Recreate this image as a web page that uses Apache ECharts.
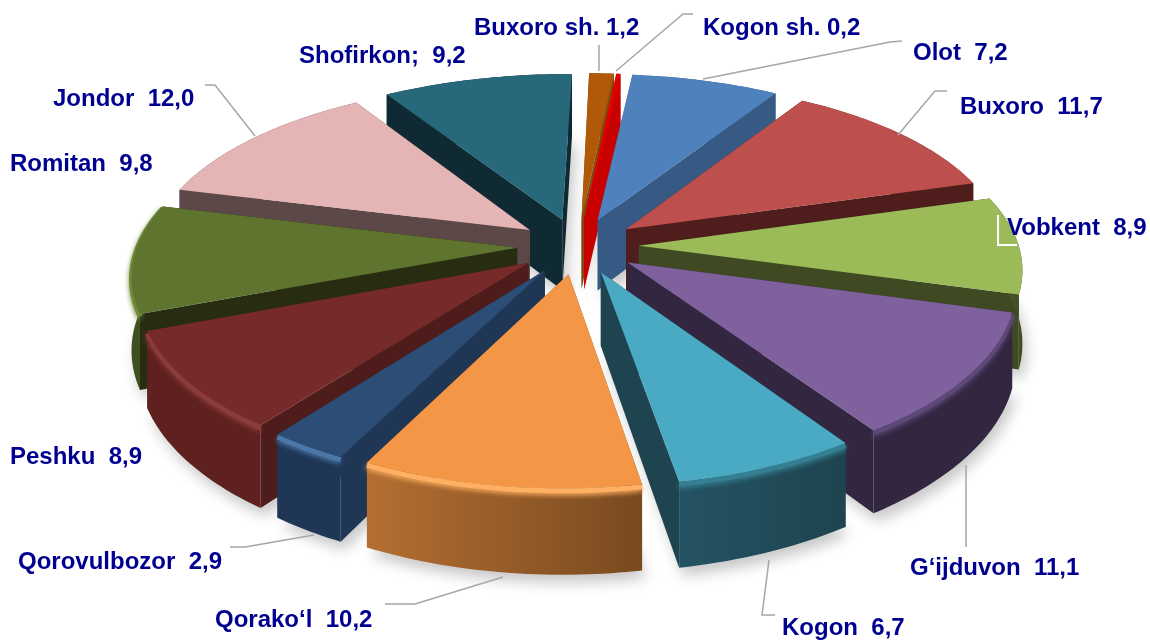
<!DOCTYPE html>
<html>
<head>
<meta charset="utf-8">
<style>
  html, body { margin: 0; padding: 0; background: #fff; }
  #main { width: 1150px; height: 641px; }
</style>
<script src="https://cdn.jsdelivr.net/npm/echarts@6/dist/echarts.min.js"></script>
</head>
<body>
<div id="main"></div>
<script>
// Datos
var names = ['Buxoro sh.', 'Kogon sh.', 'Olot', 'Buxoro', 'Vobkent', 'G‘ijduvon', 'Kogon', 'Qorako‘l', 'Qorovulbozor', 'Peshku', 'Romitan', 'Jondor', 'Shofirkon;'];
var values = [1.2, 0.2, 7.2, 11.7, 8.9, 11.1, 6.7, 10.2, 2.9, 8.9, 9.8, 12.0, 9.2];
var gaps = [' ', ' ', '  ', '  ', '  ', '  ', '  ', '  ', '  ', '  ', '  ', '  ', '  '];

// Colores de cada sector
var topColors = ['#b05a08', '#e60000', '#4f81bd', '#bd504d', '#9bbb59', '#7f619d', '#4aa9c3', '#f39645', '#2c4d75', '#772a2a', '#5f752f', '#e4b5b4', '#27687a'];
var wallColors = ['#7c4a12', '#c80000', '#365a84', '#4f1d1c', '#404a22', '#322640', '#1e444f', '#7a4b20', '#1f3655', '#4d1c1b', '#282d11', '#5c4847', '#102a33'];
var sideLeft = ['#7c4a12', '#c80000', '#365a84', '#4f1d1c', '#5b7030', '#322640', '#245363', '#b56e31', '#1f3655', '#5e2120', '#3f5020', '#5c4847', '#102a33'];
var sideRight = ['#7c4a12', '#c80000', '#365a84', '#4f1d1c', '#404a22', '#322640', '#1e444f', '#784a20', '#1f3655', '#5e2120', '#3f5020', '#5c4847', '#102a33'];
var bevelColors = ['#b05a08', '#e60000', '#4f81bd', '#bd504d', '#7f9a48', '#5e4878', '#357f92', '#ffb062', '#4c78a8', '#8c3c3a', '#6f8a3a', '#e4b5b4', '#27687a'];

// Proyeccion del disco
var cx = 578, cy = 246, scaleX = 380, scaleY = 174, perspX = 0.13, perspY = 0.145, shear = 5, height = 72, explode = 0.16, startDeg = 0.5;

var total = values.reduce(function (a, b) { return a + b; }, 0);
var rad = Math.PI / 180;
var slices = [];
var acc = 0;
values.forEach(function (v, i) {
  var a0 = startDeg + acc / total * 360;
  acc += v;
  var a1 = startDeg + acc / total * 360;
  slices.push({ i: i, a0: a0, a1: a1, mid: (a0 + a1) / 2 });
});

function project(s, r, deg, z) {
  var X = r * Math.sin(deg * rad) + explode * Math.sin(s.mid * rad);
  var Y = r * Math.cos(deg * rad) + explode * Math.cos(s.mid * rad);
  var wx = 1 + perspX * Y, wy = 1 + perspY * Y;
  return [cx + scaleX * X / wx + shear * Y, cy - scaleY * Y / wy + z * height / wy];
}

function arc(s, z, reverse) {
  var pts = [];
  var n = Math.max(2, Math.ceil(s.a1 - s.a0));
  for (var k = 0; k <= n; k++) {
    var t = reverse ? n - k : k;
    pts.push(project(s, 1, s.a0 + (s.a1 - s.a0) * t / n, z));
  }
  return pts;
}

// Orden de pintado: de atras hacia adelante
var drawOrder = slices.slice().sort(function (a, b) {
  return Math.cos(b.mid * rad) - Math.cos(a.mid * rad);
});
var drawData = drawOrder.map(function (s) { return [s.i, values[s.i]]; });

function renderShadow(params, api) {
  var s = slices[api.value(0)];
  var pts = [project(s, 0, 0, 1)].concat(arc(s, 1));
  return {
    type: 'polygon',
    shape: { points: pts },
    style: { fill: '#e4e4e4', shadowBlur: 14, shadowColor: 'rgba(0,0,0,0.22)', shadowOffsetX: 4, shadowOffsetY: 8 }
  };
}

function renderSlice(params, api) {
  var i = api.value(0);
  var s = slices[i];
  var apexTop = project(s, 0, 0, 0), apexBot = project(s, 0, 0, 1);
  var topArc = arc(s, 0), botArc = arc(s, 1, true);
  var p0 = topArc[0], p1 = topArc[topArc.length - 1];
  var q0 = botArc[botArc.length - 1], q1 = botArc[0];
  var isFront = Math.cos(s.mid * rad) < 0;
  var children = [
    { type: 'polygon', shape: { points: [apexTop, p0, q0, apexBot] }, style: { fill: wallColors[i] } },
    { type: 'polygon', shape: { points: [apexTop, p1, q1, apexBot] }, style: { fill: wallColors[i] } },
    {
      type: 'polygon',
      shape: { points: topArc.concat(botArc) },
      style: {
        fill: new echarts.graphic.LinearGradient(0, 0, 1, 0, [
          { offset: 0, color: sideLeft[i] },
          { offset: 1, color: sideRight[i] }
        ])
      }
    }
  ];
  if (isFront) {
    children.push({
      type: 'polyline',
      shape: { points: arc(s, 0.03) },
      style: { fill: null, stroke: bevelColors[i], lineWidth: 5, shadowBlur: 5, shadowColor: bevelColors[i], shadowOffsetY: 2 }
    });
  }
  children.push({ type: 'polygon', shape: { points: [apexTop].concat(topArc) }, style: { fill: topColors[i] } });
  return { type: 'group', children: children };
}

// Textos y lineas guia
var labelLayout = [
  { x: 474, y: 28, line: [[599, 45], [599, 71]] },
  { x: 703, y: 28, line: [[616, 71], [683, 14], [693, 14]] },
  { x: 913, y: 53, line: [[703, 79], [890, 42], [902, 41]] },
  { x: 960, y: 107, line: [[898, 135], [935, 91], [947, 91]] },
  { x: 1007, y: 228, line: [[998, 215], [998, 245], [1017, 245]], color: '#ffffff' },
  { x: 910, y: 568, line: [[966, 465], [966, 547]] },
  { x: 782, y: 628, line: [[769, 560], [762, 615], [775, 615]] },
  { x: 215, y: 620, line: [[503, 577], [415, 604], [385, 604]] },
  { x: 18, y: 562, line: [[314, 535], [245, 547], [230, 547]] },
  { x: 10, y: 457 },
  { x: 10, y: 164 },
  { x: 53, y: 99, line: [[255, 136], [215, 85], [205, 85]] },
  { x: 299, y: 56 }
];

var graphics = [];
labelLayout.forEach(function (l, i) {
  if (l.line) {
    graphics.push({
      type: 'polyline', z: 10, silent: true,
      shape: { points: l.line },
      style: { fill: null, stroke: l.color || '#a6a6a6', lineWidth: l.color ? 2 : 1.5 }
    });
  }
  graphics.push({
    type: 'text', z: 11, silent: true, x: l.x, y: l.y,
    style: {
      text: names[i] + gaps[i] + values[i].toFixed(1).replace('.', ','),
      font: 'bold 24px "Liberation Sans", Arial, sans-serif',
      fill: '#000090',
      verticalAlign: 'middle'
    }
  });
});

var myChart = echarts.init(document.getElementById('main'));
var option = {
  animation: false,
  backgroundColor: '#ffffff',
  graphic: graphics,
  series: [
    { type: 'custom', coordinateSystem: 'none', z: 1, silent: true, renderItem: renderShadow, data: drawData },
    { type: 'custom', coordinateSystem: 'none', z: 2, silent: true, renderItem: renderSlice, data: drawData }
  ]
};
myChart.setOption(option);
</script>
</body>
</html>
